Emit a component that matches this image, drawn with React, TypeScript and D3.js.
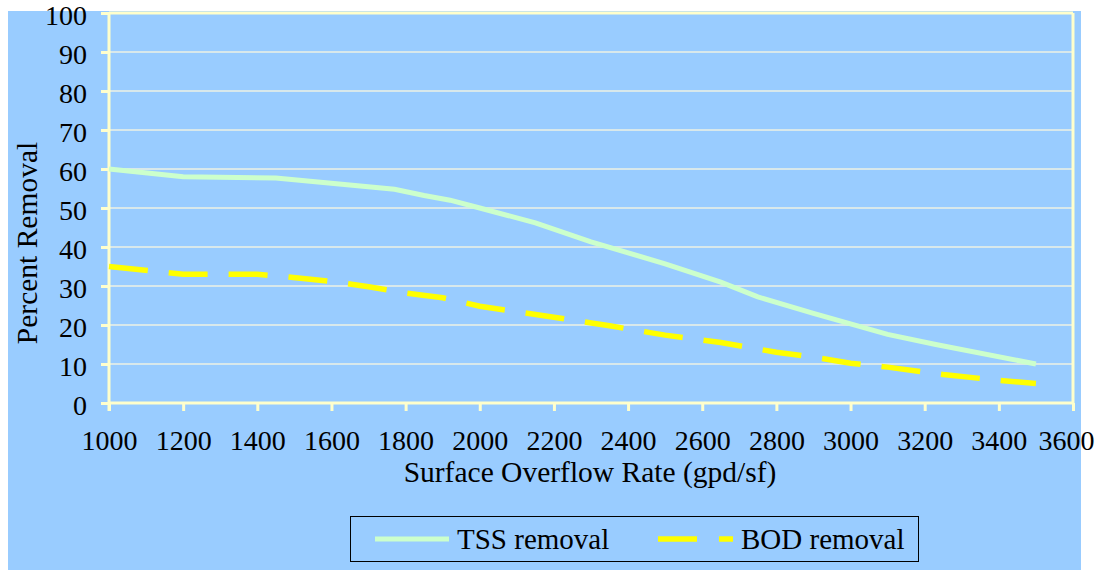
import { axisBottom, axisLeft, line, scaleLinear, select } from "d3";
import { useEffect, useRef } from "react";

const xTicks = [1000, 1200, 1400, 1600, 1800, 2000, 2200, 2400, 2600, 2800, 3000, 3200, 3400, 3600];
const yTicks = [0, 10, 20, 30, 40, 50, 60, 70, 80, 90, 100];

// TSS removal (%) vs surface overflow rate (gpd/sf)
const tssRate = [1000, 1200, 1450, 1770, 1850, 1920, 2000, 2150, 2300, 2500, 2650, 2750, 2900, 3000, 3100, 3230, 3500];
const tssRemoval = [60, 58, 57.7, 54.8, 53.2, 52, 50, 46.2, 41.3, 35.7, 31, 27.2, 23, 20.3, 17.6, 15, 10];

// BOD removal (%)
const bodRate = [1000, 1200, 1400, 1450, 1600, 1700, 1800, 1900, 2000, 2100, 2200, 2350, 2500, 2650, 2800, 2900, 3000, 3100, 3250, 3400, 3500];
const bodRemoval = [35, 33, 33, 32.6, 31.2, 29.8, 28.2, 27, 24.8, 23.4, 22, 19.8, 17.4, 15.5, 13, 11.8, 10.2, 9.2, 7.3, 5.8, 5];

const width = 1096;
const height = 570;
const marginLeft = 109;
const marginRight = 1073;
const marginTop = 13;
const marginBottom = 403;

const font = "'Liberation Serif', 'Times New Roman', serif";
const axisColor = "#FFFFCC";

export default function App() {
  const gx = useRef<SVGGElement>(null);
  const gy = useRef<SVGGElement>(null);

  const x = scaleLinear([1000, 3600], [marginLeft, marginRight]);
  const y = scaleLinear([0, 100], [marginBottom, marginTop]);

  useEffect(() => {
    const g = select(gx.current!);
    g.call(axisBottom(x).tickValues(xTicks).tickSize(8).tickPadding(19).tickFormat((d) => String(d)) as any);
    g.select(".domain").remove();
    g.selectAll(".tick line").attr("stroke", axisColor).attr("stroke-width", 3);
    g.selectAll(".tick text")
      .attr("fill", "#000")
      .attr("dx", (d: any) => (d === 3600 ? -7 : 0))
      .style("font-family", font)
      .style("font-size", "28px");
  }, [gx, x]);

  useEffect(() => {
    const g = select(gy.current!);
    g.call(axisLeft(y).tickValues(yTicks).tickSize(8).tickPadding(14) as any);
    g.select(".domain").remove();
    g.selectAll(".tick line").attr("stroke", axisColor).attr("stroke-width", 3);
    g.selectAll(".tick text")
      .attr("fill", "#000")
      .attr("dy", "0.4em")
      .style("font-family", font)
      .style("font-size", "28px");
  }, [gy, y]);

  const tssPath = line<number>((d) => x(d), (_, i) => y(tssRemoval[i]))(tssRate);
  const bodPath = line<number>((d) => x(d), (_, i) => y(bodRemoval[i]))(bodRate);

  return (
    <svg width={width} height={height} style={{ position: "absolute", left: 0, top: 0 }}>
      <rect x={8} y={11} width={1073} height={height - 11} fill="#99CCFF" />
      {yTicks.slice(1, -1).map((t) => (
        <line key={t} x1={marginLeft} x2={marginRight} y1={y(t)} y2={y(t)} stroke="#EEF2E4" strokeWidth={1.6} />
      ))}
      <g ref={gx} transform={`translate(0,${marginBottom})`} />
      <g ref={gy} transform={`translate(${marginLeft},0)`} />
      {/* plot frame */}
      <line x1={marginLeft} x2={marginRight} y1={marginTop} y2={marginTop} stroke={axisColor} strokeWidth={3} />
      <line x1={marginRight} x2={marginRight} y1={marginTop} y2={marginBottom} stroke={axisColor} strokeWidth={3} />
      <line x1={marginLeft} x2={marginLeft} y1={marginTop - 1} y2={marginBottom + 8} stroke={axisColor} strokeWidth={3} />
      <line x1={marginLeft} x2={marginRight} y1={marginBottom} y2={marginBottom} stroke={axisColor} strokeWidth={3} />
      {tssPath && <path d={tssPath} fill="none" stroke="#CCFFCC" strokeWidth={5} />}
      {bodPath && <path d={bodPath} fill="none" stroke="#FFFF00" strokeWidth={5.5} strokeDasharray="39 21" />}
      <text
        transform={`translate(37,${(marginTop + marginBottom) / 2 + 35}) rotate(-90)`}
        textAnchor="middle"
        style={{ fontFamily: font, fontSize: "29.5px" }}
      >
        Percent Removal
      </text>
      <text x={590} y={482} textAnchor="middle" style={{ fontFamily: font, fontSize: "29.5px" }}>
        Surface Overflow Rate (gpd/sf)
      </text>
      <g>
        <rect x={350.5} y={516.5} width={568} height={45} fill="#99CCFF" stroke="#000" strokeWidth={1} />
        <line x1={375} x2={449} y1={539} y2={539} stroke="#CCFFCC" strokeWidth={5} />
        <text x={457} y={549} style={{ fontFamily: font, fontSize: "29px" }}>
          TSS removal
        </text>
        <line x1={658} x2={733} y1={539} y2={539} stroke="#FFFF00" strokeWidth={5.5} strokeDasharray="39 22" />
        <text x={741} y={549} style={{ fontFamily: font, fontSize: "29px" }}>
          BOD removal
        </text>
      </g>
    </svg>
  );
}
